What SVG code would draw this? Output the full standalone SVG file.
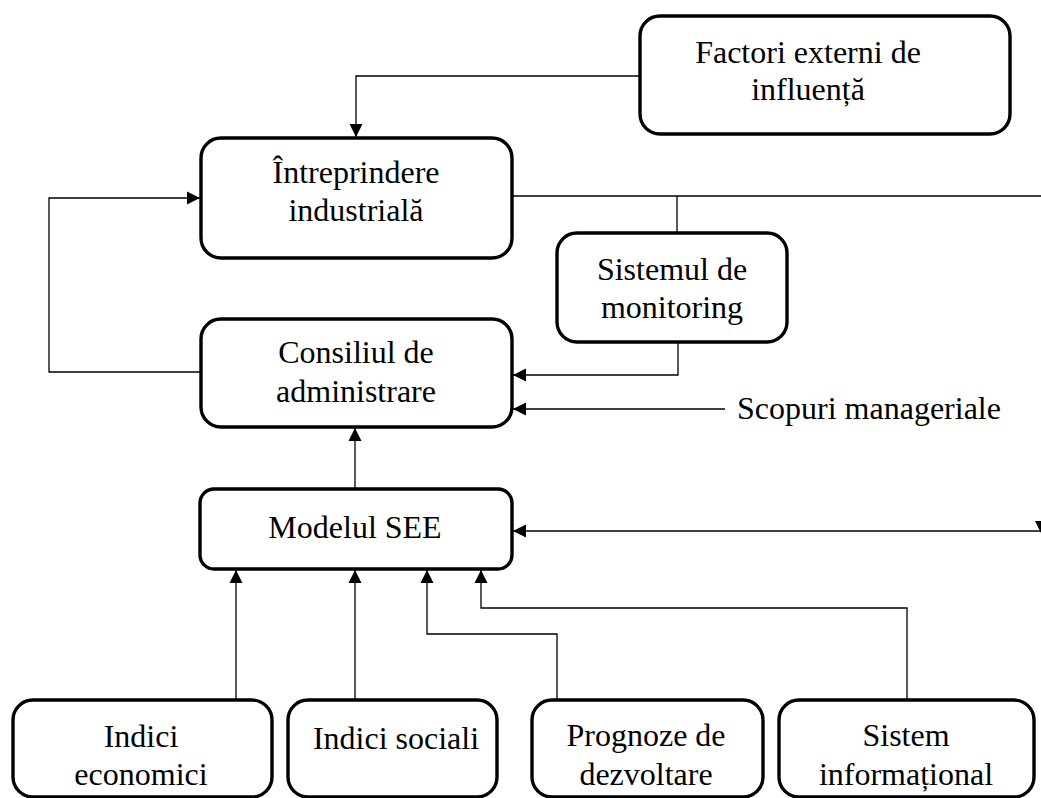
<svg xmlns="http://www.w3.org/2000/svg" width="1041" height="798" viewBox="0 0 1041 798">
<style>
.box{fill:#fff;stroke:#000;stroke-width:3.4}
.t{font-family:"Liberation Serif","Times New Roman",serif;font-size:32px;fill:#000;text-anchor:middle}
.c{fill:none;stroke:#000;stroke-width:1.3}
.a{marker-end:url(#ah)}
</style>
<defs>
<marker id="ah" markerUnits="userSpaceOnUse" markerWidth="14" markerHeight="14" refX="13" refY="7" orient="auto" viewBox="0 0 14 14">
<path d="M0,0.5 L13,7 L0,13.5 z" fill="#000"/>
</marker>
</defs>
<rect width="1041" height="798" fill="#fff"/>
<g id="connectors">
<polyline class="c a" points="640,76 356,76 356,137"/>
<polyline class="c" points="512,196 1041,196"/>
<polyline class="c" points="677,196 677,233"/>
<polyline class="c a" points="678,342 678,375 513,375"/>
<polyline class="c a" points="725,409 513,409"/>
<polyline class="c a" points="201,372 49,372 49,198 200,198"/>
<polyline class="c a" points="355,489 355,428"/>
<polyline class="c a" points="1041,531 513,531"/>
<polygon points="1035,521 1051,521 1042,535" fill="#000"/>
<polyline class="c a" points="236,700 236,570"/>
<polyline class="c a" points="355,700 355,570"/>
<polyline class="c a" points="557,700 557,634 427,634 427,570"/>
<polyline class="c a" points="907,700 907,608 481,608 481,570"/>
</g>
<g id="factori">
<rect class="box" x="640" y="16" width="370" height="118" rx="20"/>
<text class="t" x="808" y="63">Factori externi de</text>
<text class="t" x="808" y="100">influență</text>
</g>
<g id="intreprindere">
<rect class="box" x="201" y="138" width="311" height="120" rx="20"/>
<text class="t" x="356" y="183">Întreprindere</text>
<text class="t" x="356" y="221">industrială</text>
</g>
<g id="monitoring">
<rect class="box" x="557" y="233" width="230" height="109" rx="20"/>
<text class="t" x="672" y="280">Sistemul de</text>
<text class="t" x="672" y="318">monitoring</text>
</g>
<g id="consiliul">
<rect class="box" x="201" y="319" width="311" height="108" rx="20"/>
<text class="t" x="356" y="363">Consiliul de</text>
<text class="t" x="356" y="402">administrare</text>
</g>
<g id="scopuri">
<text class="t" x="869" y="419">Scopuri manageriale</text>
</g>
<g id="modelul">
<rect class="box" x="200" y="489" width="312" height="80" rx="14"/>
<text class="t" x="355" y="538">Modelul SEE</text>
</g>
<g id="economici">
<rect class="box" x="13" y="700" width="259" height="97" rx="20"/>
<text class="t" x="141" y="747">Indici</text>
<text class="t" x="141" y="785">economici</text>
</g>
<g id="sociali">
<rect class="box" x="288" y="700" width="209" height="97" rx="20"/>
<text class="t" x="396" y="749">Indici sociali</text>
</g>
<g id="prognoze">
<rect class="box" x="532" y="700" width="231" height="97" rx="20"/>
<text class="t" x="646" y="746">Prognoze de</text>
<text class="t" x="646" y="785">dezvoltare</text>
</g>
<g id="sistem">
<rect class="box" x="779" y="700" width="255" height="97" rx="20"/>
<text class="t" x="906" y="746">Sistem</text>
<text class="t" x="906" y="785">informațional</text>
</g>
</svg>
